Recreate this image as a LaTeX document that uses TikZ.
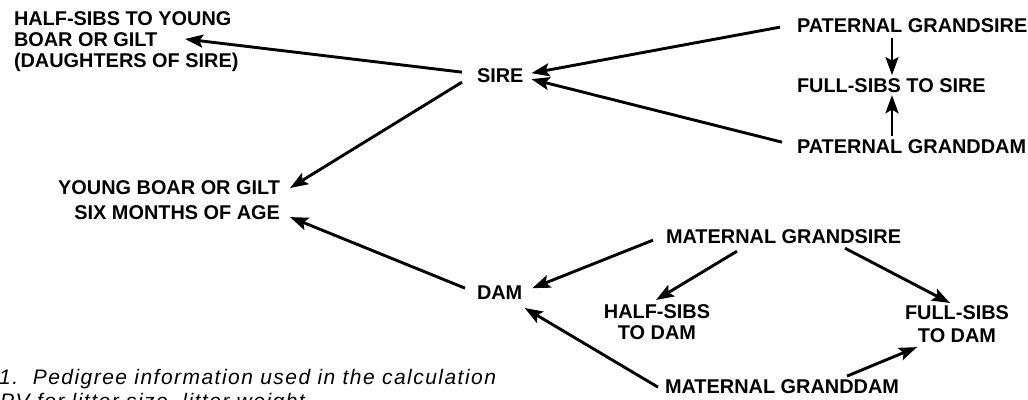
\documentclass[tikz,border=0pt]{standalone}
\usepackage{fontspec}
\setmainfont{Liberation Sans}
\newfontfamily\capfont[LetterSpace=7]{Liberation Sans}
\usetikzlibrary{arrows.meta}
\newcommand\lblfont{\bfseries\fontsize{19.9}{21}\selectfont}
\begin{document}
\begin{tikzpicture}[x=1pt,y=-1pt,
  lbl/.style={font=\lblfont, inner sep=0pt, outer sep=0pt},
  arr/.style={line width=2.9pt, -{Stealth[length=18pt,width=13pt,inset=3.5pt]}},
  captext/.style={font=\capfont\itshape\fontsize{21}{24}\selectfont, inner sep=0pt, anchor=base west}]
\useasboundingbox (0,0) rectangle (1028,399);
% nodes
\node[lbl, anchor=north west, align=left] (hsy) at (14,12) {HALF-SIBS TO YOUNG\\BOAR OR GILT\\(DAUGHTERS OF SIRE)};
\node[lbl, anchor=base west] (sire) at (477,82) {SIRE};
\node[lbl, anchor=base west] (pgs) at (797,32) {PATERNAL GRANDSIRE};
\node[lbl, anchor=base west] (fss) at (797,92) {FULL-SIBS TO SIRE};
\node[lbl, anchor=base west] (pgd) at (797,153) {PATERNAL GRANDDAM};
\node[lbl, anchor=north east, align=right, font=\bfseries\fontsize{19.9}{25}\selectfont] (young) at (280,181) {YOUNG BOAR OR GILT\\SIX MONTHS OF AGE};
\node[lbl, anchor=base west] (dam) at (477,299) {DAM};
\node[lbl, anchor=base west] (mgs) at (666,243) {MATERNAL GRANDSIRE};
\node[lbl, anchor=north, align=center] (hsd) at (657,305) {HALF-SIBS\\TO DAM};
\node[lbl, anchor=north, align=center, font=\bfseries\fontsize{19.9}{23}\selectfont] (fsd) at (957,306) {FULL-SIBS\\TO DAM};
\node[lbl, anchor=base west] (mgd) at (665,393) {MATERNAL GRANDDAM};
\node[captext] (c1) at (-1,384) {1.\ \ Pedigree information used in the calculation};
\node[captext] (c2) at (0,408) {PV for litter size, litter weight};
% connectors
\draw[arr] ([shift={(-15,-3)}]sire.west) -- ([shift={(171,27)}]hsy.north west);
\draw[arr] ([shift={(-15,7)}]sire.west) -- ([shift={(10,7)}]young.north east);
\draw[arr] ([shift={(-12,-4)}]dam.west) -- ([shift={(10,-3)}]young.south east);
\draw[arr] ([shift={(-17,2)}]pgs.west) -- ([shift={(8,-2)}]sire.east);
\draw[arr] ([shift={(-15,-4)}]pgd.west) -- ([shift={(8,4)}]sire.east);
\draw[arr] ([shift={(95,6)}]pgs.south west) -- ([shift={(95,-3)}]fss.north west);
\draw[arr] ([shift={(95,-3)}]pgd.north west) -- ([shift={(95,3)}]fss.south west);
\draw[arr] ([shift={(-13,4)}]mgs.west) -- ([shift={(10,-4)}]dam.east);
\draw[arr] ([shift={(71,8)}]mgs.south west) -- ([shift={(-1,-5)}]hsd.north);
\draw[arr] ([shift={(179,5)}]mgs.south west) -- ([shift={(-7,-3)}]fsd.north);
\draw[arr] ([shift={(182,-3)}]mgd.north west) -- ([shift={(-40,4)}]fsd.south);
\draw[arr] ([shift={(-7,1)}]mgd.west) -- ([shift={(25,9)}]dam.south);
\end{tikzpicture}
\end{document}
